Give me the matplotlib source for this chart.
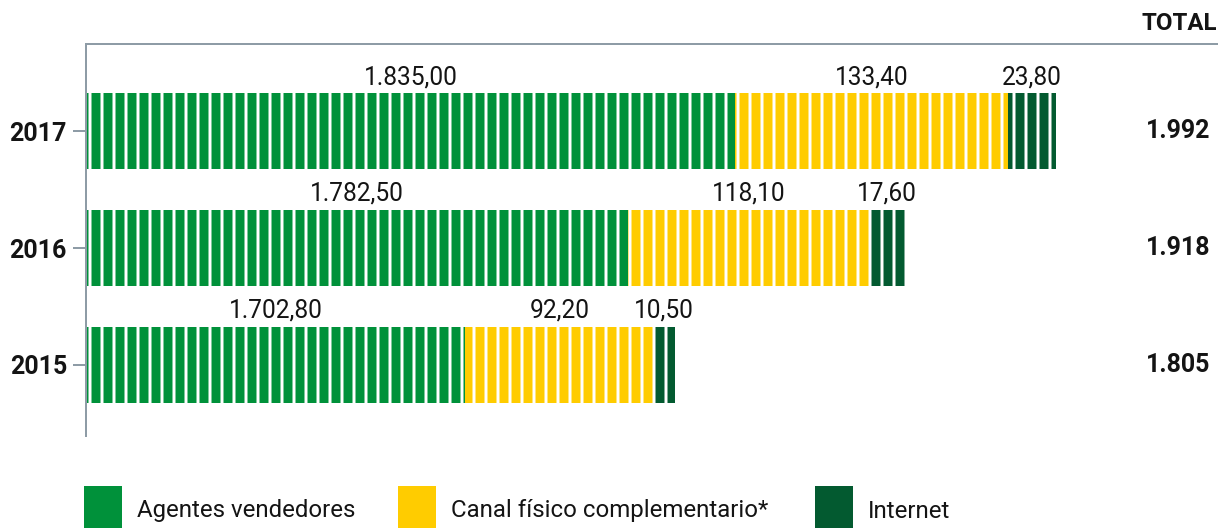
import matplotlib
matplotlib.use("Agg")
import matplotlib.pyplot as plt
from matplotlib.patches import Rectangle
from matplotlib import transforms

# ---- data ----
years = ["2015", "2016", "2017"]
agentes = [1702.80, 1782.50, 1835.00]
canal = [92.20, 118.10, 133.40]
internet = [10.50, 17.60, 23.80]
totals = [1805, 1918, 1992]
series_names = ["Agentes vendedores", "Canal físico complementario*", "Internet"]

# ---- style ----
colors = ["#00913A", "#FFCC00", "#035A30"]
spine_col = "#8E9CA6"
txt_col = "#141414"
plt.rcParams["font.family"] = ["Roboto", "DejaVu Sans"]
plt.rcParams["hatch.linewidth"] = 3.0
plt.rcParams["hatch.color"] = "white"

DPI = 72
W, H = 1224, 528
fig = plt.figure(figsize=(W / DPI, H / DPI), dpi=DPI)
ax = fig.add_axes([86 / W, 92 / H, 1131 / W, 392 / H])

def fmt(v, dec=2):
    s = f"{v:,.{dec}f}"
    return s.replace(",", "X").replace(".", ",").replace("X", ".")

XMIN, XMAX = 1517, 2071
ypos = list(range(len(years)))
bh = 0.65
lefts = [0.0] * len(years)
for vals, col in zip([agentes, canal, internet], colors):
    ax.barh(ypos, vals, left=lefts, height=bh, color=col, edgecolor="white",
            linewidth=0, hatch="|")
    for i, (l, v) in enumerate(zip(lefts, vals)):
        a = max(l, XMIN)
        b = l + v
        ax.annotate(fmt(v), xy=((a + b) / 2, i + bh / 2), xytext=(0, 4),
                    textcoords="offset points", ha="center", va="bottom",
                    fontsize=24.5, color=txt_col)
    lefts = [l + v for l, v in zip(lefts, vals)]

ax.set_xlim(XMIN, XMAX)
ax.set_ylim(-0.607, 2.744)
ax.set_yticks(ypos)
ax.set_yticklabels(years, fontsize=25, fontweight="bold", color=txt_col)
ax.set_xticks([])
ax.tick_params(axis="y", direction="out", length=13, width=2, color=spine_col, pad=6)
for s in ["right", "bottom"]:
    ax.spines[s].set_visible(False)
for s in ["left", "top"]:
    ax.spines[s].set_color(spine_col)
    ax.spines[s].set_linewidth(2)

# totals column
tr = transforms.blended_transform_factory(ax.transAxes, ax.transData)
for i, t in enumerate(totals):
    ax.text(0.9938, i, fmt(t, 0), transform=tr, ha="right", va="center",
            fontsize=25, fontweight="bold", color=txt_col)
ax.annotate("TOTAL", xy=(1.0, 1.0), xycoords="axes fraction", xytext=(0, 9),
            textcoords="offset points", ha="right", va="bottom",
            fontsize=24, fontweight="bold", color=txt_col)

# legend
leg_x = [84, 398, 815]
for x0, col, name in zip(leg_x, colors, series_names):
    fig.patches.append(Rectangle((x0 / W, 0), 38 / W, 42 / H, transform=fig.transFigure,
                                 facecolor=col, edgecolor="none"))
    fig.text((x0 + 53) / W, 17 / H, name, ha="left", va="center", fontsize=24,
             color=txt_col)

fig.savefig("out.png", dpi=DPI, facecolor="white")
